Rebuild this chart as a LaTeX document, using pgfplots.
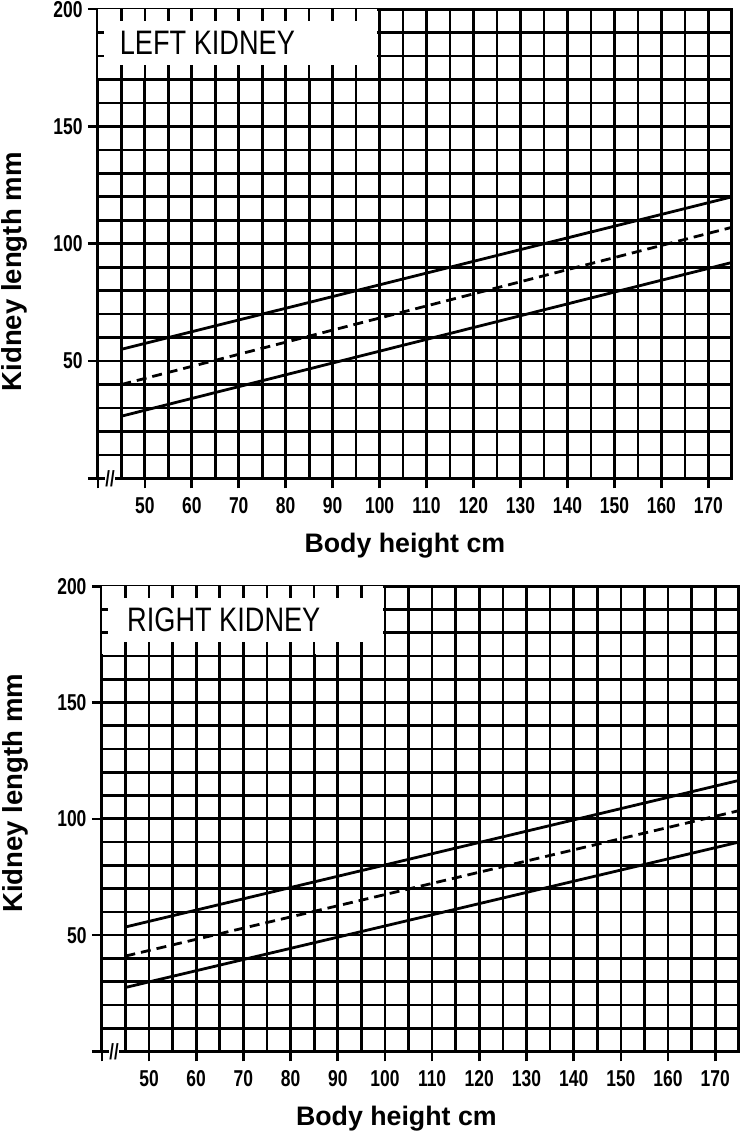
\documentclass[border=0pt]{standalone}
\usepackage{fontspec}
\setmainfont{Liberation Sans}
\newfontfamily\tickfont[FakeStretch=0.76]{Liberation Sans Bold}
\newfontfamily\titlefont[FakeStretch=0.8]{Liberation Sans}
\usepackage{pgfplots}
\pgfplotsset{compat=1.18}

\pgfplotsset{
  kidney/.style={
    scale only axis,
    xmin=40, xmax=175, ymin=0, ymax=200,
    xtick={40,50,60,70,80,90,100,110,120,130,140,150,160,170},
    xticklabels={,50,60,70,80,90,100,110,120,130,140,150,160,170},
    minor xtick={45,55,65,75,85,95,105,115,125,135,145,155,165},
    ytick={0,50,100,150,200},
    yticklabels={,50,100,150,200},
    minor ytick={10,20,30,40,60,70,80,90,110,120,130,140,160,170,180,190},
    grid=both,
    grid style={black, line width=1.35bp},
    minor grid style={black, line width=1.35bp},
    axis line style={line width=1.5bp},
    tick align=outside,
    xtick pos=bottom, ytick pos=left,
    major tick length=5bp, minor tick length=0pt,
    every tick/.style={black, line width=1.3bp},
    tick label style={font=\tickfont\fontsize{11.5bp}{12bp}\selectfont, inner sep=0.5bp},
    xticklabel style={yshift=-4bp},
    yticklabel style={xshift=-2bp},
    xlabel={Body height cm},
    ylabel={Kidney length mm},
    xlabel style={font=\bfseries\fontsize{13.4bp}{14bp}\selectfont, inner sep=0pt,
      at={(axis description cs:0.5,0)}, anchor=base, yshift=-37bp, xshift=-5bp},
    ylabel style={font=\bfseries\fontsize{13.8bp}{14bp}\selectfont, inner sep=0pt,
      at={(axis description cs:-0.131,0.44)}, anchor=center},
  },
  upper/.style={black, line width=1.4bp, no marks},
  median/.style={black, line width=1.4bp, no marks, dash pattern=on 5bp off 3bp},
}

% white title area in the upper left corner, with its short ticks
\newcommand{\titlebox}[2]{%
  \fill[white] (axis cs:40,170.7) rectangle (axis cs:99.5,200);
  \pgfplotsinvokeforeach{45,50,55,60,65,70,75,80,85,90,95}{%
    \draw[line width=1.3bp] (axis cs:##1,200) -- (axis cs:##1,195);
    \draw[line width=1.3bp] (axis cs:##1,170) -- (axis cs:##1,176);
  }
  \draw[line width=1.3bp] (axis cs:40,190) -- (axis cs:41.4,190);
  \draw[line width=1.3bp] (axis cs:40,180) -- (axis cs:41.4,180);
  \node[anchor=west, inner sep=0pt, font=\titlefont\fontsize{17bp}{18bp}\selectfont] at (axis cs:#2,185.5) {#1};
}

\begin{document}
\begin{tikzpicture}
% page frame matching the reference margins
\path (-49bp,239bp) rectangle (325.5bp,-326.5bp);
% left kidney
\begin{axis}[kidney, width=317.5bp, height=235bp, at={(0,0)}, anchor=south west, clip=false]
\addplot[upper] coordinates {(45,55) (175,120)};
\addplot[median] coordinates {(45,40) (175,107)};
\addplot[upper] coordinates {(45,26.5) (175,92)};
\titlebox{LEFT KIDNEY}{44.6}
\node[font=\tickfont\fontsize{11bp}{11bp}\selectfont, inner sep=0.3bp, fill=white] at (axis cs:42.6,0) {//};
\end{axis}
% right kidney
\begin{axis}[kidney, width=319bp, height=233bp, at={(2bp,-287bp)}, anchor=south west, clip=false,
  xlabel style={xshift=-7bp}, ylabel style={at={(axis description cs:-0.136,0.555)}}]
\addplot[upper] coordinates {(45,53.5) (175,116.5)};
\addplot[median] coordinates {(45,41) (175,103.5)};
\addplot[upper] coordinates {(45,27.5) (175,90)};
\titlebox{RIGHT KIDNEY}{45.3}
\node[font=\tickfont\fontsize{11bp}{11bp}\selectfont, inner sep=0.3bp, fill=white] at (axis cs:42.6,0) {//};
\end{axis}
\end{tikzpicture}
\end{document}
